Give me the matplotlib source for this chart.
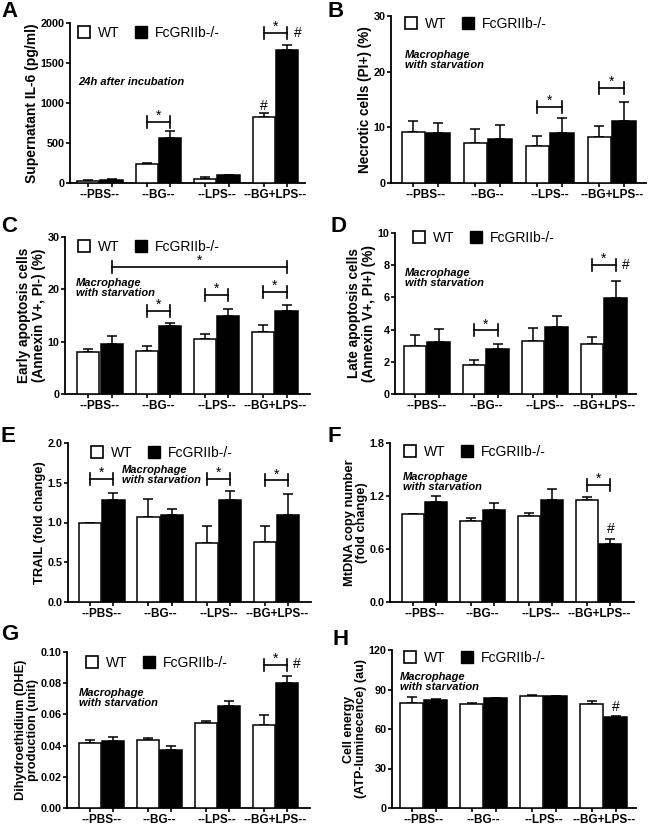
import matplotlib
matplotlib.use('Agg')
import matplotlib.pyplot as plt
from matplotlib.patches import Patch
import numpy as np

plt.rcParams['font.family'] = ['Liberation Sans', 'DejaVu Sans']

W, H = 654, 827

groups = ['--PBS--', '--BG--', '--LPS--', '--BG+LPS--']
series = ['WT', 'FcGRIIb-/-']

# ---------------- data ----------------
# A: supernatant IL-6
a_wt = [30, 240, 55, 830]
a_wt_err = [5, 10, 15, 40]
a_ko = [40, 565, 100, 1665]
a_ko_err = [5, 85, 5, 60]
# B: necrotic cells
b_wt = [9.2, 7.1, 6.7, 8.2]
b_wt_err = [2.0, 2.6, 1.7, 2.0]
b_ko = [8.9, 7.9, 9.0, 11.2]
b_ko_err = [1.9, 2.5, 2.6, 3.4]
# C: early apoptosis
c_wt = [8.1, 8.3, 10.5, 11.9]
c_wt_err = [0.5, 0.8, 0.9, 1.2]
c_ko = [9.6, 12.9, 14.9, 15.9]
c_ko_err = [1.4, 0.6, 1.3, 1.1]
# D: late apoptosis
d_wt = [3.0, 1.82, 3.3, 3.13]
d_wt_err = [0.65, 0.27, 0.8, 0.43]
d_ko = [3.25, 2.82, 4.16, 5.94]
d_ko_err = [0.8, 0.3, 0.7, 1.1]
# E: TRAIL
e_wt = [1.0, 1.07, 0.74, 0.75]
e_wt_err = [0.0, 0.22, 0.22, 0.21]
e_ko = [1.28, 1.10, 1.28, 1.09]
e_ko_err = [0.09, 0.07, 0.12, 0.27]
# F: MtDNA copy number
f_wt = [1.0, 0.917, 0.977, 1.16]
f_wt_err = [0.0, 0.03, 0.03, 0.03]
f_ko = [1.13, 1.045, 1.16, 0.66]
f_ko_err = [0.07, 0.08, 0.12, 0.05]
# G: DHE
g_wt = [0.0417, 0.0434, 0.0545, 0.053]
g_wt_err = [0.002, 0.0017, 0.0015, 0.0068]
g_ko = [0.0427, 0.0372, 0.0652, 0.0801]
g_ko_err = [0.003, 0.0025, 0.0036, 0.0043]
# H: cell energy
h_wt = [79.4, 79.2, 85.0, 79.0]
h_wt_err = [5.0, 0.3, 0.5, 2.0]
h_ko = [82.0, 83.2, 84.8, 68.8]
h_ko_err = [0.8, 0.3, 0.5, 1.0]

ylabels = {
    'A': 'Supernatant IL-6 (pg/ml)',
    'B': 'Necrotic cells (PI+) (%)',
    'C': 'Early apoptosis cells\n(Annexin V+, PI-) (%)',
    'D': 'Late apoptosis cells\n(Annexin V+, PI+) (%)',
    'E': 'TRAIL (fold change)',
    'F': 'MtDNA copy number\n(fold change)',
    'G': 'Dihydroethidium (DHE)\nproduction (unit)',
    'H': 'Cell energy\n(ATP-luminecence) (au)',
}
yticks = {
    'A': ([0, 500, 1000, 1500, 2000], ['0', '500', '1000', '1500', '2000']),
    'B': ([0, 10, 20, 30], ['0', '10', '20', '30']),
    'C': ([0, 10, 20, 30], ['0', '10', '20', '30']),
    'D': ([0, 2, 4, 6, 8, 10], ['0', '2', '4', '6', '8', '10']),
    'E': ([0, 0.5, 1.0, 1.5, 2.0], ['0.0', '0.5', '1.0', '1.5', '2.0']),
    'F': ([0, 0.6, 1.2, 1.8], ['0.0', '0.6', '1.2', '1.8']),
    'G': ([0, 0.02, 0.04, 0.06, 0.08, 0.10], ['0.00', '0.02', '0.04', '0.06', '0.08', '0.10']),
    'H': ([0, 30, 60, 90, 120], ['0', '30', '60', '90', '120']),
}
notes = {
    'A': '24h after incubation',
    'B': 'Macrophage\nwith starvation', 'C': 'Macrophage\nwith starvation',
    'D': 'Macrophage\nwith starvation', 'E': 'Macrophage\nwith starvation',
    'F': 'Macrophage\nwith starvation', 'G': 'Macrophage\nwith starvation',
    'H': 'Macrophage\nwith starvation',
}
# significance brackets: (group1, side1, group2, side2, y)  side -1 = WT, +1 = KO
stars = {
    'A': [(1, -1, 1, 1, 766), (3, -1, 3, 1, 1874)],
    'B': [(2, -1, 2, 1, 13.7), (3, -1, 3, 1, 17.1)],
    'C': [(1, -1, 1, 1, 15.9), (2, -1, 2, 1, 19.0), (3, -1, 3, 1, 19.5), (0, 1, 3, 1, 24.3)],
    'D': [(1, -1, 1, 1, 3.95), (3, -1, 3, 1, 8.0)],
    'E': [(0, -1, 0, 1, 1.545), (2, -1, 2, 1, 1.545), (3, -1, 3, 1, 1.53)],
    'F': [(3, -1, 3, 1, 1.33)],
    'G': [(3, -1, 3, 1, 0.0919)],
    'H': [],
}
# '#' marks: (x in data units, y)
hashes = {
    'A': [(2.8, 962), (3.39, 1874)],
    'D': [(3.37, 8.0)],
    'F': [(3.2, 0.83)],
    'G': [(3.37, 0.092)],
    'H': [(3.2, 77)],
}
values = {
    'A': (a_wt, a_wt_err, a_ko, a_ko_err),
    'B': (b_wt, b_wt_err, b_ko, b_ko_err),
    'C': (c_wt, c_wt_err, c_ko, c_ko_err),
    'D': (d_wt, d_wt_err, d_ko, d_ko_err),
    'E': (e_wt, e_wt_err, e_ko, e_ko_err),
    'F': (f_wt, f_wt_err, f_ko, f_ko_err),
    'G': (g_wt, g_wt_err, g_ko, g_ko_err),
    'H': (h_wt, h_wt_err, h_ko, h_ko_err),
}

# ---------------- layout (pixels) ----------------
layout = {
    'A': dict(left=70, top=23, bottom=183, sp=58.5, m=0.51, leg=(8, 10), note=(8, 54), let=(1, 17), ls=1.0, yfs=10.0),
    'B': dict(left=391, top=16, bottom=183, sp=62, m=0.56, leg=(14, 8), note=(14, 34), let=(328, 17), ls=1.0, yfs=9.8),
    'C': dict(left=65, top=237, bottom=394, sp=58.3, m=0.6, leg=(13, 10), note=(11, 41), let=(1, 232), ls=1.05, yfs=9.8),
    'D': dict(left=395, top=233, bottom=394, sp=59, m=0.54, leg=(18, 5), note=(10, 35), let=(331, 232), ls=1.05, yfs=9.8),
    'E': dict(left=68, top=443, bottom=602, sp=58.3, m=0.58, leg=(23, 10), note=(54, 22), let=(1, 442), ls=1.0, yfs=9.4),
    'F': dict(left=390, top=443, bottom=602, sp=58, m=0.6, leg=(14, 9), note=(13, 29), let=(328, 442), ls=1.0, yfs=9.3),
    'G': dict(left=67, top=652, bottom=808, sp=57.8, m=0.6, leg=(19, 11), note=(12, 36), let=(1, 640), ls=1.0, yfs=9.2),
    'H': dict(left=392, top=650, bottom=808, sp=60, m=0.53, leg=(12, 8), note=(8, 22), let=(333, 645), ls=1.0, yfs=9.0),
}

OFF = 0.2
BW = 0.38
LW = 1.1

fig = plt.figure(figsize=(W / 100, H / 100), dpi=100)
fig.patch.set_facecolor('white')

for key in 'ABCDEFGH':
    L = layout[key]
    width_px = L['sp'] * (3 + 2 * L['m'])
    height_px = L['bottom'] - L['top']
    ax = fig.add_axes([L['left'] / W, 1 - L['bottom'] / H, width_px / W, height_px / H])
    wt, wte, ko, koe = values[key]
    x = np.arange(len(groups))
    ax.bar(x - OFF, wt, BW, color='white', edgecolor='black', linewidth=LW, zorder=3)
    ax.bar(x + OFF, ko, BW, color='black', edgecolor='black', linewidth=LW, zorder=3)
    ax.errorbar(x - OFF, wt, yerr=[np.zeros(4), wte], fmt='none', ecolor='black',
                elinewidth=LW, capsize=3.5, capthick=LW, zorder=2)
    ax.errorbar(x + OFF, ko, yerr=[np.zeros(4), koe], fmt='none', ecolor='black',
                elinewidth=LW, capsize=3.5, capthick=LW, zorder=2)

    ticks, tlabels = yticks[key]
    ymax = ticks[-1]
    ax.set_ylim(0, ymax)
    ax.set_xlim(-L['m'], 3 + L['m'])
    ax.set_yticks(ticks, labels=tlabels, fontweight='bold', fontsize=7.8)
    ax.set_xticks(np.sort(np.concatenate([x - OFF, x + OFF])), labels=[])
    ax.set_xticks(x, labels=groups, minor=True, fontweight='bold', fontsize=8.5)
    ax.tick_params(axis='y', direction='out', length=3, width=1.2, pad=0.8)
    ax.tick_params(axis='x', which='major', direction='out', length=3, width=1.2)
    ax.tick_params(axis='x', which='minor', length=0, pad=4.5)
    for s in ['top', 'right']:
        ax.spines[s].set_visible(False)
    for s in ['left', 'bottom']:
        ax.spines[s].set_linewidth(1.3)
    ax.set_ylabel(ylabels[key], fontweight='bold', fontsize=L['yfs'], linespacing=L['ls'], labelpad=1.5)

    # legend
    dx, dy = L['leg']
    ax.legend(handles=[Patch(facecolor='white', edgecolor='black', linewidth=1.2),
                       Patch(facecolor='black', edgecolor='black')],
              labels=series, ncol=2, frameon=False, loc='center left',
              bbox_to_anchor=(dx / width_px, 1 - dy / height_px),
              borderaxespad=0, borderpad=0, handlelength=0.85, handleheight=0.93,
              handletextpad=0.6, columnspacing=1.1, prop={'size': 10})

    # note text
    nx, ny = L['note']
    ax.text(nx / width_px, 1 - ny / height_px, notes[key], transform=ax.transAxes,
            ha='left', va='top', fontsize=8, fontweight='bold', style='italic',
            linespacing=1.05)

    # brackets
    ppx = ymax / height_px
    for g1, s1, g2, s2, yb in stars[key]:
        x1 = g1 + s1 * OFF
        x2 = g2 + s2 * OFF
        ax.plot([x1, x2], [yb, yb], color='black', lw=1.2, clip_on=False)
        for xx in (x1, x2):
            ax.plot([xx, xx], [yb - 6 * ppx, yb + 6 * ppx], color='black', lw=1.2, clip_on=False)
        ax.text((x1 + x2) / 2, yb - 1 * ppx, '*', ha='center', va='bottom', fontsize=10)
    for hx, hy in hashes.get(key, []):
        ax.text(hx, hy, '#', ha='center', va='center', fontsize=10)

    lx, ly = L['let']
    fig.text(lx / W, 1 - ly / H, key, fontsize=16, fontweight='bold', ha='left', va='baseline')

fig.savefig('out.png', dpi=100, facecolor='white')
